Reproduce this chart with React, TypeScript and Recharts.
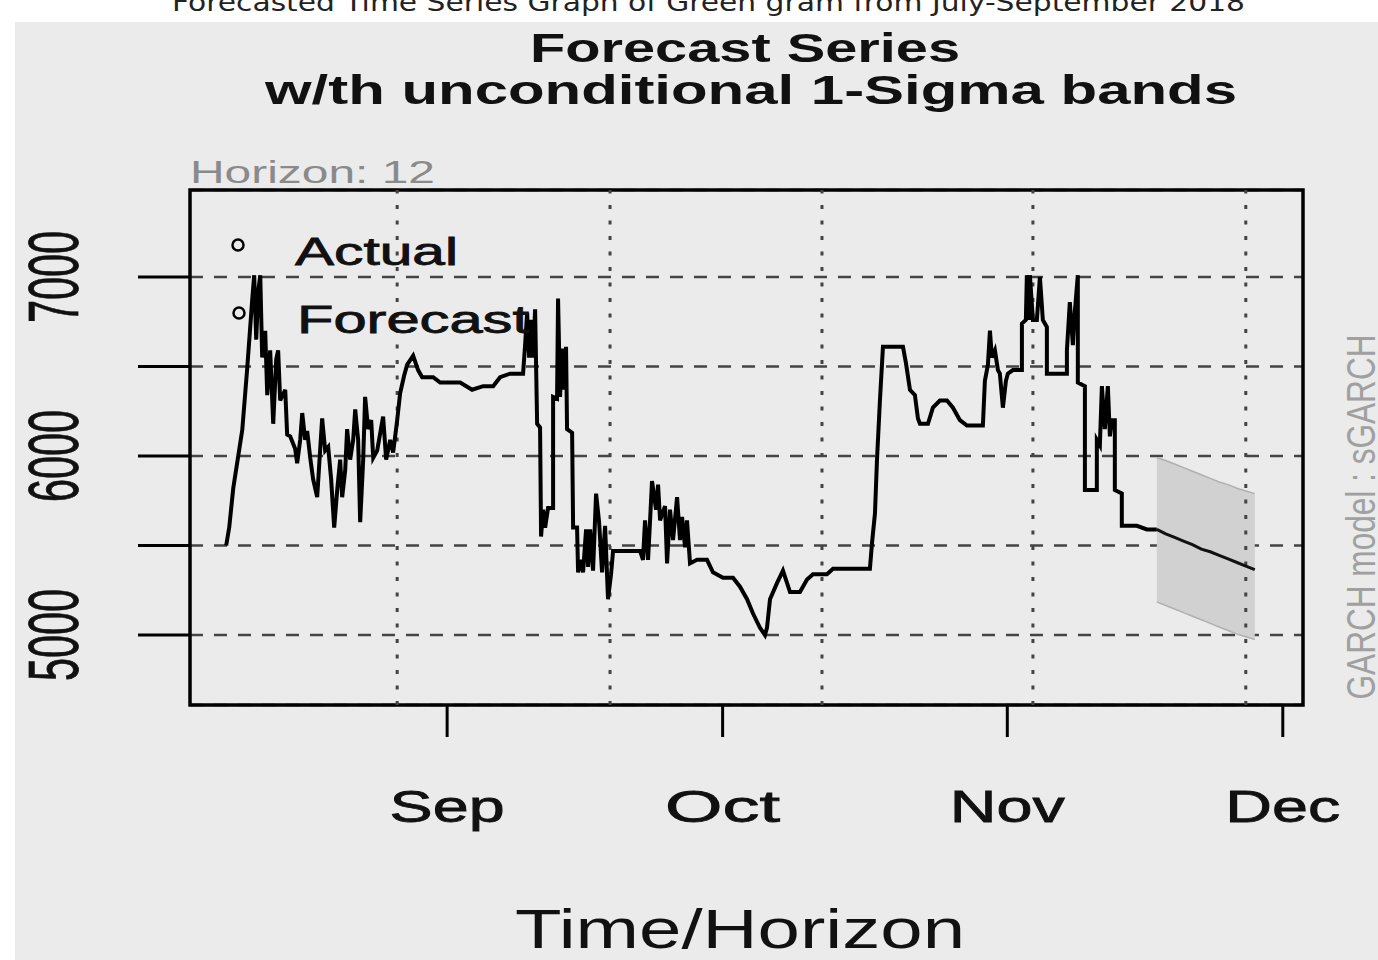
import React from 'react'
import {
  ComposedChart, Line, Area,
  XAxis, YAxis, CartesianGrid,
  ReferenceLine, ReferenceArea,
} from 'recharts'

// ─── Data ────────────────────────────────────────────────────────
// x = days from 1 Sep, y = price

const ACTUAL: Array<[number, number]> = [
  [-24.06, 5500], [-23.73, 5600], [-23.29, 5820], [-22.31, 6145], [-21.77, 6490], [-21.23, 6870],
  [-21.01, 7010], [-20.79, 6650], [-20.57, 6920], [-20.35, 7010], [-20.14, 6550], [-19.81, 6700],
  [-19.59, 6340], [-19.27, 6590], [-18.94, 6180], [-18.61, 6540], [-18.4, 6590], [-18.18, 6310],
  [-17.63, 6370], [-17.42, 6120], [-17.09, 6110], [-16.55, 6040], [-16.33, 5960], [-16.0, 6090],
  [-15.78, 6240], [-15.46, 6090], [-15.24, 6140], [-14.91, 5990], [-14.59, 5870], [-14.15, 5770],
  [-13.93, 5950], [-13.61, 6210], [-13.28, 6030], [-12.95, 6050], [-12.63, 5870], [-12.3, 5600],
  [-11.97, 5810], [-11.65, 5980], [-11.43, 5770], [-11.1, 5920], [-10.89, 6150], [-10.56, 5980],
  [-10.23, 6090], [-10.01, 6260], [-9.69, 6090], [-9.47, 5630], [-9.14, 5980], [-8.93, 6330],
  [-8.6, 6150], [-8.27, 6200], [-8.05, 5990], [-7.62, 6030], [-6.97, 6220], [-6.64, 5980],
  [-6.2, 6090], [-5.88, 6020], [-5.44, 6200], [-5.12, 6350], [-4.68, 6450], [-4.35, 6510],
  [-3.7, 6560], [-3.16, 6480], [-2.72, 6440], [-1.52, 6440], [-0.76, 6410], [1.42, 6410],
  [2.72, 6370], [3.92, 6390], [5.01, 6390], [5.77, 6440], [6.86, 6460], [8.27, 6460],
  [8.49, 6620], [8.71, 6800], [8.93, 6550], [9.14, 6760], [9.36, 6550], [9.58, 6820],
  [9.8, 6180], [10.12, 6160], [10.23, 5550], [10.45, 5700], [10.67, 5600], [10.99, 5710],
  [11.54, 5710], [11.54, 6330], [11.97, 6320], [12.08, 6880], [12.3, 6330], [12.52, 6600],
  [12.74, 6370], [12.95, 6610], [13.06, 6150], [13.61, 6130], [13.72, 5600], [14.15, 5600],
  [14.26, 5350], [14.48, 5420], [14.8, 5350], [15.13, 5590], [15.35, 5380], [15.57, 5590],
  [15.89, 5360], [16.22, 5790], [16.55, 5630], [16.87, 5350], [17.2, 5610], [17.52, 5200],
  [17.85, 5340], [18.07, 5470], [21.01, 5470], [21.33, 5420], [21.55, 5640], [21.88, 5420],
  [22.1, 5640], [22.31, 5860], [22.75, 5700], [22.97, 5840], [23.19, 5640], [23.73, 5720],
  [23.95, 5400], [24.27, 5700], [24.6, 5530], [25.04, 5770], [25.36, 5530], [25.58, 5660],
  [25.91, 5490], [26.12, 5640], [26.45, 5400], [27.21, 5420], [28.3, 5420], [28.95, 5350],
  [30.04, 5320], [31.13, 5320], [31.89, 5270], [32.66, 5200], [33.31, 5120], [34.07, 5040],
  [34.61, 5000], [34.83, 5040], [35.16, 5200], [35.92, 5290], [36.57, 5360], [37.34, 5240],
  [38.42, 5240], [39.19, 5310], [39.84, 5340], [41.36, 5340], [42.02, 5370], [46.04, 5370],
  [46.26, 5510], [46.59, 5680], [46.81, 5980], [47.13, 6310], [47.46, 6610], [49.64, 6610],
  [49.96, 6520], [50.4, 6370], [50.94, 6340], [51.27, 6210], [51.49, 6180], [52.36, 6180],
  [52.9, 6270], [53.66, 6310], [54.43, 6310], [55.08, 6270], [55.84, 6200], [56.6, 6170],
  [58.34, 6170], [58.56, 6420], [58.89, 6510], [59.11, 6700], [59.32, 6550], [59.65, 6590],
  [59.98, 6480], [60.19, 6460], [60.52, 6270], [60.85, 6420], [61.06, 6460], [61.61, 6480],
  [62.59, 6480], [62.59, 6740], [63.02, 6760], [63.13, 7010], [63.35, 6760], [63.46, 7010],
  [63.79, 6760], [64.22, 6760], [64.55, 7000], [64.87, 6760], [65.31, 6720], [65.31, 6460],
  [67.49, 6460], [67.49, 6590], [67.81, 6860], [68.14, 6620], [68.36, 6810], [68.68, 7010],
  [68.68, 6410], [69.45, 6390], [69.45, 5810], [70.75, 5810], [70.75, 6090], [71.08, 6060],
  [71.3, 6390], [71.62, 6150], [71.95, 6390], [72.17, 6110], [72.39, 6200], [72.71, 6200],
  [72.71, 5810], [73.47, 5790], [73.47, 5610], [75.11, 5610], [76.2, 5590], [77.28, 5590],
]

const FORECAST_DAYS = [77.28, 78.25, 79.22, 80.19, 81.16, 82.13, 83.1, 84.07, 85.04, 86.01, 86.98, 87.95]
const FORECAST = [5590, 5565, 5545, 5525, 5505, 5480, 5465, 5445, 5425, 5405, 5385, 5365]
const UPPER = [5990, 5975, 5955, 5935, 5915, 5895, 5875, 5855, 5840, 5820, 5805, 5790]
const LOWER = [5185, 5165, 5145, 5125, 5105, 5085, 5065, 5045, 5025, 5005, 4990, 4975]

const MONTH_TICKS = [0, 30, 61, 91]
const MONTH_LABELS = ['Sep', 'Oct', 'Nov', 'Dec']
const Y_TICKS = [5000, 5500, 6000, 6500, 7000]
const Y_LABELLED = [5000, 6000, 7000]
const V_GRID = [-5.44, 17.74, 40.82, 63.79, 86.97]

const X_DOMAIN: [number, number] = [-28, 93.2]
const Y_DOMAIN: [number, number] = [4609, 7486]

const actualData = ACTUAL.map(([day, value]) => ({ day, value }))
const forecastData = FORECAST_DAYS.map((day, i) => ({ day, value: FORECAST[i] }))
const bandData = FORECAST_DAYS.map((day, i) => ({ day, band: [LOWER[i], UPPER[i]] }))

const FONT = '"Liberation Sans", Arial, Helvetica, sans-serif'

// ─── Ticks ───────────────────────────────────────────────────────

function MonthTick({ x, y, payload }: any) {
  const i = MONTH_TICKS.indexOf(payload.value)
  return (
    <text x={x} y={y + 83} textAnchor="middle" fontSize={44} fontFamily={FONT} fill="#111"
      stroke="#111" strokeWidth={0.8} textLength={115} lengthAdjust="spacingAndGlyphs">
      {MONTH_LABELS[i]}
    </text>
  )
}

function ValueTick({ x, y, payload }: any) {
  if (!Y_LABELLED.includes(payload.value)) return <g />
  return (
    <text transform={`translate(${x - 58}, ${y}) rotate(-90)`} textAnchor="middle" fontSize={70}
      fontFamily={FONT} fill="#111" stroke="#111" strokeWidth={0.8}
      textLength={92} lengthAdjust="spacingAndGlyphs">
      {payload.value}
    </text>
  )
}

// ─── Main ────────────────────────────────────────────────────────

export default function App() {
  return (
    <div style={{ position: 'absolute', left: 0, top: 0, width: 1378, height: 960, background: '#fff', overflow: 'hidden' }}>
      <div style={{ position: 'absolute', left: 15, top: 22, width: 1363, height: 938, background: '#ebebeb' }} />

      <div style={{ position: 'absolute', left: 0, top: 0 }}>
        <ComposedChart width={1378} height={960} margin={{ top: 190, right: 75, bottom: 195, left: 40 }}>
          <CartesianGrid vertical={false} stroke="#444" strokeWidth={2.5} strokeDasharray="13 11" />
          {V_GRID.map((d) => (
            <ReferenceLine key={d} x={d} stroke="#444" strokeWidth={3} strokeDasharray="4 11.5" />
          ))}
          <XAxis
            type="number"
            dataKey="day"
            domain={X_DOMAIN}
            ticks={MONTH_TICKS}
            allowDataOverflow
            axisLine={false}
            tickLine={{ stroke: '#000', strokeWidth: 3 }}
            tickSize={32}
            height={60}
            tick={<MonthTick />}
          />
          <YAxis
            type="number"
            domain={Y_DOMAIN}
            ticks={Y_TICKS}
            allowDataOverflow
            axisLine={false}
            tickLine={{ stroke: '#000', strokeWidth: 3 }}
            tickSize={52}
            width={150}
            tick={<ValueTick />}
          />
          <Area
            data={bandData}
            dataKey="band"
            type="linear"
            fill="#d1d1d1"
            fillOpacity={1}
            stroke="#b0b0b0"
            strokeWidth={1.5}
            isAnimationActive={false}
          />
          <Line
            data={actualData}
            dataKey="value"
            type="linear"
            stroke="#000"
            strokeWidth={4}
            dot={false}
            isAnimationActive={false}
          />
          <Line
            data={forecastData}
            dataKey="value"
            type="linear"
            stroke="#111"
            strokeWidth={3}
            dot={false}
            isAnimationActive={false}
          />
          <ReferenceArea
            x1={X_DOMAIN[0]} x2={X_DOMAIN[1]} y1={Y_DOMAIN[0]} y2={Y_DOMAIN[1]}
            fill="none" fillOpacity={0} stroke="#000" strokeWidth={3.5} ifOverflow="visible"
          />
        </ComposedChart>
      </div>

      <svg width={1378} height={960} style={{ position: 'absolute', left: 0, top: 0, pointerEvents: 'none' }}>
        <text x={172} y={11} fontSize={24} fontFamily='"DejaVu Sans", sans-serif' fill="#222"
          textLength={1073} lengthAdjust="spacingAndGlyphs">
          Forecasted Time Series Graph of Green gram from July-September 2018
        </text>
        <text x={745} y={62} textAnchor="middle" fontSize={40} fontWeight="bold" fontFamily={FONT} fill="#111"
          textLength={430} lengthAdjust="spacingAndGlyphs">
          Forecast Series
        </text>
        <text x={751} y={104} textAnchor="middle" fontSize={40} fontWeight="bold" fontFamily={FONT} fill="#111"
          textLength={972} lengthAdjust="spacingAndGlyphs">
          w/th unconditional 1-Sigma bands
        </text>
        <text x={190} y={183} fontSize={32} fontFamily={FONT} fill="#8a8a8a"
          textLength={245} lengthAdjust="spacingAndGlyphs">
          Horizon: 12
        </text>

        <circle cx={238} cy={245} r={5.5} fill="none" stroke="#000" strokeWidth={2.5} />
        <text x={295} y={265} fontSize={38} fontFamily={FONT} fill="#111" stroke="#111" strokeWidth={0.8}
          textLength={163} lengthAdjust="spacingAndGlyphs">
          Actual
        </text>
        <circle cx={239} cy={313} r={5.5} fill="none" stroke="#000" strokeWidth={2.5} />
        <text x={297} y={333} fontSize={38} fontFamily={FONT} fill="#111" stroke="#111" strokeWidth={0.8}
          textLength={232} lengthAdjust="spacingAndGlyphs">
          Forecast
        </text>

        <text x={740} y={948} textAnchor="middle" fontSize={56} fontFamily={FONT} fill="#111"
          textLength={450} lengthAdjust="spacingAndGlyphs">
          Time/Horizon
        </text>
        <text transform="translate(1375, 517) rotate(-90)" textAnchor="middle" fontSize={40} fontFamily={FONT}
          fill="#a0a0a0" textLength={365} lengthAdjust="spacingAndGlyphs">
          GARCH model : sGARCH
        </text>
      </svg>
    </div>
  )
}
